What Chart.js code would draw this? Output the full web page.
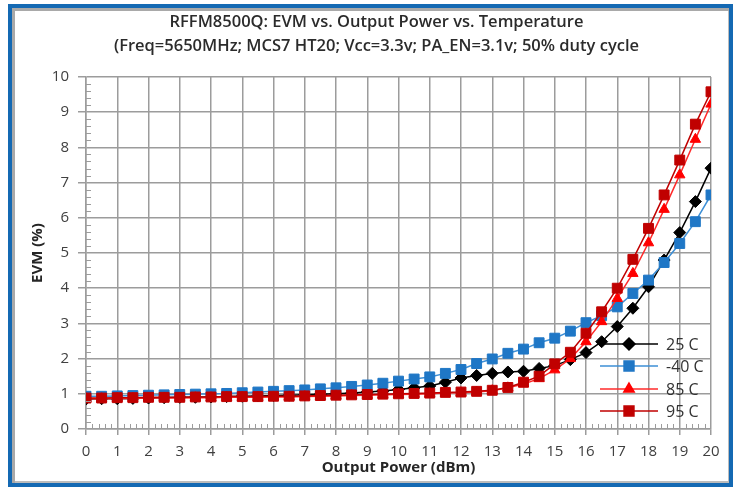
<!DOCTYPE html>
<html>
<head>
<meta charset="utf-8">
<script src="https://cdn.jsdelivr.net/npm/chart.js@4/dist/chart.umd.min.js"></script>
<style>
  html, body { margin: 0; padding: 0; background: #fff; }
  #wrap { position: relative; width: 737px; height: 487px; }
  #frame {
    position: absolute; left: 8px; top: 4px; width: 725px; height: 483px;
    box-sizing: border-box; border: 4px solid #1469b3;
    box-shadow: inset 3px 3px 0 #a9a9a9, inset -1px -2px 0 #bcbcbc;
    pointer-events: none;
  }
</style>
</head>
<body>
<div id="wrap">
  <canvas id="chart" width="737" height="487"></canvas>
  <div id="frame"></div>
</div>
<script>
// 输出功率 (dBm)
const powerDbm = [0, 0.5, 1, 1.5, 2, 2.5, 3, 3.5, 4, 4.5, 5, 5.5, 6, 6.5, 7, 7.5, 8, 8.5, 9, 9.5,
  10, 10.5, 11, 11.5, 12, 12.5, 13, 13.5, 14, 14.5, 15, 15.5, 16, 16.5, 17, 17.5, 18, 18.5, 19, 19.5, 20];

// EVM (%) per temperature
const evm25C = [0.85, 0.86, 0.86, 0.87, 0.88, 0.89, 0.90, 0.90, 0.91, 0.92, 0.93, 0.94, 0.95, 0.96, 0.97, 0.99, 1.00, 1.02, 1.05, 1.08,
  1.12, 1.17, 1.22, 1.33, 1.45, 1.52, 1.58, 1.62, 1.64, 1.72, 1.80, 1.97, 2.17, 2.48, 2.91, 3.43, 4.04, 4.80, 5.58, 6.46, 7.41];
const evmM40C = [0.93, 0.93, 0.94, 0.95, 0.96, 0.97, 0.98, 0.99, 1.00, 1.01, 1.03, 1.05, 1.07, 1.09, 1.11, 1.14, 1.17, 1.21, 1.25, 1.30,
  1.36, 1.42, 1.48, 1.58, 1.69, 1.86, 1.99, 2.15, 2.27, 2.45, 2.58, 2.78, 3.02, 3.22, 3.47, 3.85, 4.23, 4.73, 5.27, 5.89, 6.65];
const evm85C = [0.86, 0.86, 0.87, 0.87, 0.88, 0.88, 0.88, 0.89, 0.89, 0.90, 0.90, 0.90, 0.91, 0.91, 0.92, 0.93, 0.94, 0.95, 0.96, 0.97,
  0.98, 0.99, 1.00, 1.02, 1.03, 1.05, 1.09, 1.17, 1.28, 1.43, 1.68, 2.00, 2.48, 3.05, 3.71, 4.42, 5.29, 6.24, 7.22, 8.23, 9.23];
const evm95C = [0.88, 0.88, 0.89, 0.89, 0.90, 0.90, 0.90, 0.91, 0.91, 0.92, 0.92, 0.92, 0.93, 0.93, 0.94, 0.95, 0.96, 0.97, 0.98, 0.99,
  1.00, 1.01, 1.02, 1.04, 1.05, 1.07, 1.10, 1.18, 1.33, 1.50, 1.85, 2.18, 2.72, 3.33, 4.00, 4.82, 5.70, 6.65, 7.64, 8.66, 9.58];

const seriesLabels = ['25 C', '-40 C', '85 C', '95 C'];

const toPoints = (ys) => powerDbm.map((x, i) => ({ x, y: ys[i] }));

const FONT = "'Open Sans', 'Liberation Sans', sans-serif";
const GRID = '#9c9c9c';

// 次刻度线（朝向绘图区内侧）
const minorTicks = {
  id: 'minorTicks',
  afterDraw(chart) {
    const { ctx, chartArea, scales } = chart;
    ctx.save();
    ctx.strokeStyle = GRID;
    ctx.lineWidth = 1;
    ctx.beginPath();
    for (let v = 0; v <= 20.001; v += 0.2) {
      if (Math.abs(v - Math.round(v)) < 0.01) continue;
      const px = Math.round(scales.x.getPixelForValue(v)) + 0.5;
      ctx.moveTo(px, chartArea.bottom);
      ctx.lineTo(px, chartArea.bottom - 5);
    }
    for (let v = 0; v <= 10.001; v += 0.2) {
      if (Math.abs(v - Math.round(v)) < 0.01) continue;
      const py = Math.round(scales.y.getPixelForValue(v)) + 0.5;
      ctx.moveTo(chartArea.left, py);
      ctx.lineTo(chartArea.left + 5, py);
    }
    ctx.stroke();
    ctx.restore();
  },
};

// 图内图例：线段 + 标记 + 文字
const inlineLegend = {
  id: 'inlineLegend',
  afterDraw(chart) {
    const { ctx, chartArea } = chart;
    const rowsY = [-85, -63, -40, -18];
    ctx.save();
    chart.data.datasets.forEach((ds, i) => {
      const y = chartArea.bottom + rowsY[i];
      const x0 = chartArea.right - 111;
      const x1 = chartArea.right - 53;
      ctx.strokeStyle = ds.borderColor;
      ctx.lineWidth = 1.5;
      ctx.beginPath();
      ctx.moveTo(x0, y);
      ctx.lineTo(x1, y);
      ctx.stroke();
      ctx.fillStyle = ds.pointBackgroundColor;
      ctx.strokeStyle = ds.pointBackgroundColor;
      Chart.helpers.drawPoint(ctx, {
        pointStyle: ds.pointStyle, radius: ds.pointRadius, rotation: 0, borderWidth: 1,
      }, (x0 + x1) / 2, y);
      ctx.fillStyle = '#333';
      ctx.font = `16px ${FONT}`;
      ctx.textBaseline = 'middle';
      ctx.textAlign = 'left';
      ctx.fillText(ds.label, chartArea.right - 45, y + 1);
    });
    ctx.restore();
  },
};

const canvas = document.getElementById('chart');
new Chart(canvas.getContext('2d'), {
  type: 'line',
  data: {
    datasets: [
      {
        label: seriesLabels[0], data: toPoints(evm25C), order: 3,
        borderColor: '#000000', pointBackgroundColor: '#000000', pointBorderColor: '#000000',
        pointStyle: 'rectRot', pointRadius: 6,
      },
      {
        label: seriesLabels[1], data: toPoints(evmM40C), order: 2,
        borderColor: '#3d8fd6', pointBackgroundColor: '#1f77c6', pointBorderColor: '#1f77c6',
        pointStyle: 'rect', pointRadius: 7,
      },
      {
        label: seriesLabels[2], data: toPoints(evm85C), order: 1,
        borderColor: '#ff2a2a', pointBackgroundColor: '#ff0000', pointBorderColor: '#ff0000',
        pointStyle: 'triangle', pointRadius: 6,
      },
      {
        label: seriesLabels[3], data: toPoints(evm95C), order: 0,
        borderColor: '#c00000', pointBackgroundColor: '#c00000', pointBorderColor: '#c00000',
        pointStyle: 'rect', pointRadius: 7,
      },
    ].map(ds => ({ ...ds, borderWidth: 1.5, pointBorderWidth: 1, tension: 0, fill: false })),
  },
  options: {
    responsive: false,
    animation: false,
    devicePixelRatio: 1,
    // 左侧留白加大，使标题居中位置与原图一致
    layout: { padding: { left: 42, right: 26, top: 4, bottom: 8 } },
    plugins: {
      legend: { display: false },
      tooltip: { enabled: false },
      title: {
        display: true,
        text: [
          'RFFM8500Q: EVM vs. Output Power vs. Temperature',
          '(Freq=5650MHz; MCS7 HT20; Vcc=3.3v; PA_EN=3.1v; 50% duty cycle',
        ],
        color: '#2b2b2b',
        font: { family: FONT, size: 16.5, weight: '600', lineHeight: '24px' },
        padding: { top: 6, bottom: 19 },
      },
    },
    scales: {
      x: {
        type: 'linear', min: 0, max: 20,
        afterFit: (s) => { s.height = 50; },
        ticks: { stepSize: 1, color: '#404040', padding: 8, font: { family: FONT, size: 15 } },
        grid: { color: GRID, lineWidth: 1.5, tickLength: 6 },
        border: { color: GRID, width: 1.5 },
        title: {
          display: true, text: 'Output Power (dBm)', color: '#262626',
          font: { family: FONT, size: 15, weight: 'bold' }, padding: { top: 0, bottom: 2 },
        },
      },
      y: {
        min: 0, max: 10,
        afterFit: (s) => { s.width = 44; },
        ticks: { stepSize: 1, color: '#404040', padding: 9, font: { family: FONT, size: 15 } },
        grid: { color: GRID, lineWidth: 1.5, tickLength: 8 },
        border: { color: GRID, width: 1.5 },
        title: {
          display: true, text: 'EVM (%)', color: '#262626',
          font: { family: FONT, size: 15, weight: 'bold' }, padding: { top: -13, bottom: 0 },
        },
      },
    },
  },
  plugins: [minorTicks, inlineLegend],
});
</script>
</body>
</html>
